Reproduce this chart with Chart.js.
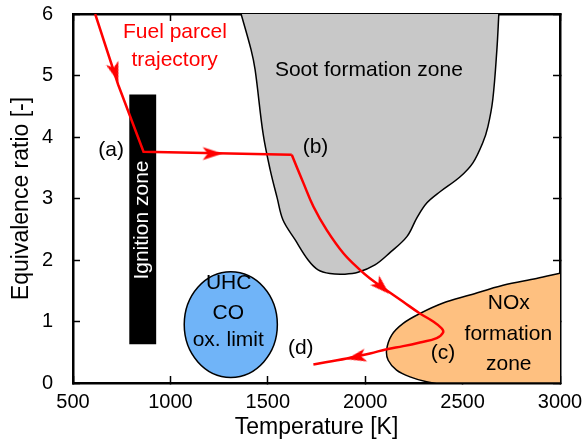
<!DOCTYPE html>
<html>
<head>
<meta charset="utf-8">
<script src="https://cdn.jsdelivr.net/npm/chart.js@4"></script>
<style>
  body { margin: 0; background: #fff; }
  canvas { display: block; }
</style>
</head>
<body>
<canvas id="zones" width="585" height="441"></canvas>
<script>
// Soot formation zone boundary (T [K], phi)
var sootT = [1363, 1414, 1435, 1476, 1512, 1548, 1578, 1640, 1707, 1758, 1819, 1896, 1963, 2050, 2127, 2214, 2266, 2317, 2384, 2486, 2553, 2604, 2630, 2655, 2676, 2686];
var sootPhi = [6.0, 5.42, 5.09, 4.05, 3.47, 3.01, 2.65, 2.33, 2.0, 1.84, 1.78, 1.77, 1.80, 1.92, 2.12, 2.38, 2.69, 2.93, 3.11, 3.35, 3.58, 3.91, 4.17, 4.61, 5.42, 6.0];

// NOx formation zone boundary
var noxT = [3000, 2879, 2708, 2537, 2400, 2281, 2195, 2136, 2110, 2118, 2161, 2230, 2315, 2367, 3000];
var noxPhi = [1.785, 1.70, 1.59, 1.43, 1.30, 1.13, 0.97, 0.78, 0.54, 0.37, 0.21, 0.10, 0.02, 0, 0];

// fuel parcel trajectory, first 4 points are straight segments
var trajT = [614, 732, 862, 1623, 1683, 1734, 1802, 1888, 1973, 2025, 2091, 2195, 2281, 2349, 2392, 2400, 2367, 2281, 2195, 2110, 2025, 1905, 1734];
var trajPhi = [6.0, 4.85, 3.76, 3.71, 3.25, 2.87, 2.49, 2.11, 1.84, 1.70, 1.55, 1.32, 1.13, 1.0, 0.89, 0.82, 0.73, 0.66, 0.60, 0.55, 0.48, 0.40, 0.30];

// arrow heads on the trajectory
var arrowT = [717, 1217, 2086, 1953];
var arrowPhi = [5.05, 3.73, 1.56, 0.42];

// ignition zone (T range, phi range)
var ignT = [789, 927];
var ignPhi = [0.63, 4.69];

// UHC / CO oxidation limit ellipse: center and half widths
var oxCenter = [1310, 0.95];
var oxHalf = [239, 0.86];

var xTicks = [500, 1000, 1500, 2000, 2500, 3000];
var yTicks = [0, 1, 2, 3, 4, 5, 6];

function pts(xs, ys) {
  return xs.map(function (x, i) { return {x: x, y: ys[i]}; });
}

var ignBox = pts([ignT[0], ignT[0], ignT[1], ignT[1]], [ignPhi[0], ignPhi[1], ignPhi[1], ignPhi[0]]);

var FONT = "'Liberation Sans', Arial, Helvetica, sans-serif";
Chart.defaults.font.family = FONT;
Chart.defaults.color = '#000';

// notched arrow head, pointing up, used as point style
var arrowImg = document.createElement('canvas');
arrowImg.width = 22;
arrowImg.height = 22;
(function () {
  var c = arrowImg.getContext('2d');
  c.fillStyle = 'red';
  c.beginPath();
  c.moveTo(11, 1);
  c.lineTo(17.5, 21);
  c.lineTo(11, 16);
  c.lineTo(4.5, 21);
  c.closePath();
  c.fill();
})();

var labels = [
  {t: 'Fuel parcel', x: 1023, y: 5.71, c: 'red'},
  {t: 'trajectory', x: 1022, y: 5.25, c: 'red'},
  {t: 'Soot formation zone', x: 2019, y: 5.08},
  {t: '(a)', x: 696, y: 3.79},
  {t: '(b)', x: 1745, y: 3.83},
  {t: '(c)', x: 2399, y: 0.48},
  {t: '(d)', x: 1669, y: 0.56},
  {t: 'NOx', x: 2737, y: 1.30},
  {t: 'formation', x: 2735, y: 0.80},
  {t: 'zone', x: 2737, y: 0.31},
  {t: 'UHC', x: 1299, y: 1.62},
  {t: 'CO', x: 1297, y: 1.13},
  {t: 'ox. limit', x: 1297, y: 0.69},
  {t: 'Ignition zone', x: 855, y: 2.65, c: '#fff', rot: true}
];

var ellipsePlugin = {
  id: 'oxEllipse',
  beforeDatasetsDraw: function (chart) {
    var xs = chart.scales.x, ys = chart.scales.y, ctx = chart.ctx;
    var cx = xs.getPixelForValue(oxCenter[0]), cy = ys.getPixelForValue(oxCenter[1]);
    var rx = xs.getPixelForValue(oxCenter[0] + oxHalf[0]) - cx;
    var ry = cy - ys.getPixelForValue(oxCenter[1] + oxHalf[1]);
    ctx.save();
    ctx.beginPath();
    ctx.ellipse(cx, cy, rx, ry, 0, 0, Math.PI * 2);
    ctx.fillStyle = '#70b4f8';
    ctx.fill();
    ctx.lineWidth = 1.5;
    ctx.strokeStyle = '#000';
    ctx.stroke();
    ctx.restore();
  }
};

var textPlugin = {
  id: 'zoneText',
  afterDatasetsDraw: function (chart) {
    var xs = chart.scales.x, ys = chart.scales.y, ctx = chart.ctx;
    ctx.save();
    ctx.font = '21px ' + FONT;
    ctx.textAlign = 'center';
    ctx.textBaseline = 'middle';
    labels.forEach(function (l) {
      var px = xs.getPixelForValue(l.x), py = ys.getPixelForValue(l.y);
      ctx.fillStyle = l.c || '#000';
      if (l.rot) {
        ctx.save();
        ctx.translate(px, py);
        ctx.rotate(-Math.PI / 2);
        ctx.fillText(l.t, 0, 0);
        ctx.restore();
      } else {
        ctx.fillText(l.t, px, py);
      }
    });
    ctx.restore();
  }
};

var tickGrid = {drawOnChartArea: false, tickLength: -7, tickColor: '#000', tickWidth: 1.5, color: '#000'};
var frame = {color: '#000', width: 2.5};
var plain = function (v) { return String(v); };

// fixed axis sizes, no extra label padding in the layout
function fixSize(w, h) {
  return function (s) {
    if (w !== null) s.width = w;
    if (h !== null) s.height = h;
    s.paddingTop = 0; s.paddingBottom = 0; s.paddingLeft = 0; s.paddingRight = 0;
  };
}

new Chart(document.getElementById('zones'), {
  type: 'line',
  data: {
    datasets: [
      {
        data: pts(arrowT, arrowPhi),
        showLine: false,
        pointStyle: arrowImg,
        pointRadius: 10,
        pointRotation: [162, 90, 133, 258],
        order: 1
      },
      {
        data: pts(trajT.slice(0, 4), trajPhi.slice(0, 4)),
        borderColor: 'red',
        borderWidth: 2.5,
        pointRadius: 0,
        tension: 0,
        order: 2
      },
      {
        data: pts(trajT.slice(3), trajPhi.slice(3)),
        borderColor: 'red',
        borderWidth: 2.5,
        pointRadius: 0,
        tension: 0.4,
        order: 3
      },
      {
        data: ignBox,
        borderWidth: 0,
        borderColor: '#000',
        backgroundColor: '#000',
        fill: 'shape',
        pointRadius: 0,
        tension: 0,
        order: 4
      },
      {
        data: pts(sootT, sootPhi),
        borderColor: '#000',
        borderWidth: 1.5,
        backgroundColor: '#c8c8c8',
        fill: 'shape',
        pointRadius: 0,
        tension: 0.35,
        order: 5
      },
      {
        data: pts(noxT, noxPhi),
        borderColor: '#000',
        borderWidth: 1.5,
        backgroundColor: '#fec080',
        fill: 'shape',
        pointRadius: 0,
        tension: 0.35,
        order: 6
      }
    ]
  },
  options: {
    responsive: false,
    animation: false,
    events: [],
    layout: {autoPadding: false, padding: {left: 0, top: 14, right: 25, bottom: 0}},
    plugins: {legend: {display: false}, tooltip: {enabled: false}},
    scales: {
      x: {
        type: 'linear', position: 'bottom', min: 500, max: 3000, z: 1,
        afterBuildTicks: function (s) { s.ticks = xTicks.map(function (v) { return {value: v}; }); },
        ticks: {font: {size: 20}, padding: 14, maxRotation: 0, callback: plain},
        grid: tickGrid,
        border: frame,
        title: {display: true, text: 'Temperature [K]', font: {size: 23}, padding: {top: 0, bottom: 0}},
        afterFit: fixSize(null, 58)
      },
      y: {
        type: 'linear', position: 'left', min: 0, max: 6, z: 1,
        afterBuildTicks: function (s) { s.ticks = yTicks.map(function (v) { return {value: v}; }); },
        ticks: {font: {size: 20}, padding: 27, callback: plain},
        grid: tickGrid,
        border: frame,
        title: {display: true, text: 'Equivalence ratio [-]', font: {size: 23}, padding: {top: 8, bottom: 0}},
        afterFit: fixSize(73, null)
      },
      x2: {
        type: 'linear', position: 'top', min: 500, max: 3000, z: 1,
        afterBuildTicks: function (s) { s.ticks = xTicks.map(function (v) { return {value: v}; }); },
        ticks: {display: false},
        grid: tickGrid,
        border: frame,
        afterFit: fixSize(null, 0)
      },
      y2: {
        type: 'linear', position: 'right', min: 0, max: 6, z: 1,
        afterBuildTicks: function (s) { s.ticks = yTicks.map(function (v) { return {value: v}; }); },
        ticks: {display: false},
        grid: tickGrid,
        border: frame,
        afterFit: fixSize(0, null)
      }
    }
  },
  plugins: [ellipsePlugin, textPlugin]
});
</script>
</body>
</html>
